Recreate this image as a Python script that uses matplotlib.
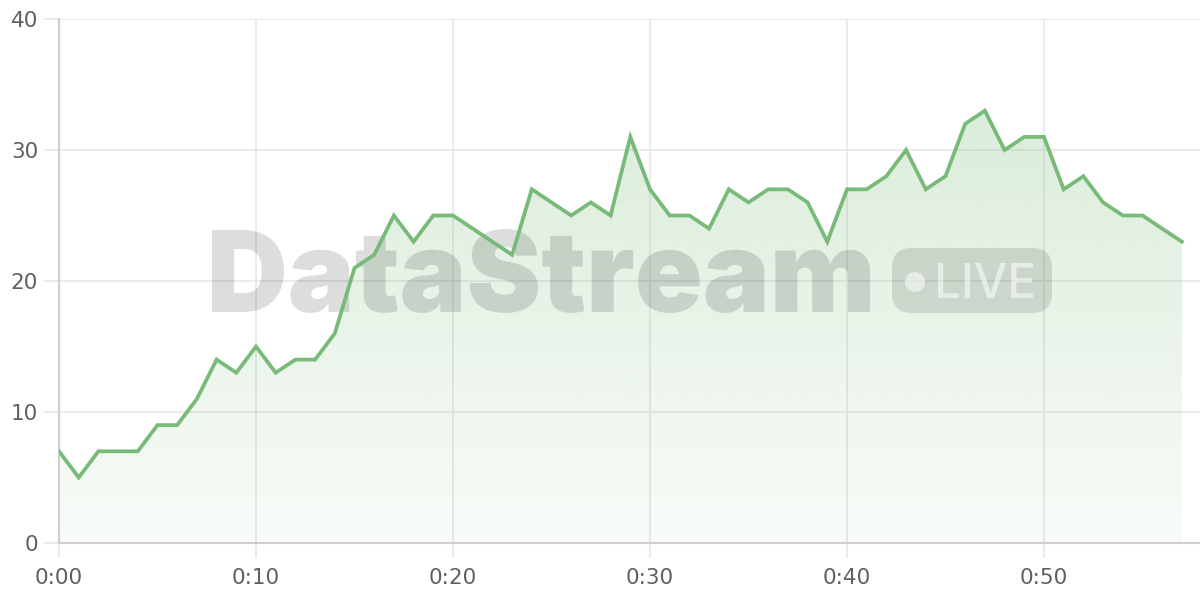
import numpy as np
import matplotlib
matplotlib.use("Agg")
import matplotlib.pyplot as plt
from matplotlib.patches import FancyBboxPatch, Circle, PathPatch
from matplotlib.textpath import TextPath
from matplotlib.font_manager import FontProperties
import matplotlib.transforms as mtransforms

minutes = list(range(58))
values = [7, 5, 7, 7, 7, 9, 9, 11, 14, 13, 15, 13, 14, 14, 16, 21, 22, 25, 23, 25,
          25, 24, 23, 22, 27, 26, 25, 26, 25, 31, 27, 25, 25, 24, 27, 26, 27, 27, 26, 23,
          27, 27, 28, 30, 27, 28, 32, 33, 30, 31, 31, 27, 28, 26, 25, 25, 24, 23]
x_ticks = [0, 10, 20, 30, 40, 50]
x_tick_labels = ["0:00", "0:10", "0:20", "0:30", "0:40", "0:50"]
y_ticks = [0, 10, 20, 30, 40]
watermark_text = "DataStream"
badge_text = "LIVE"

plt.rcParams['font.family'] = ['DejaVu Sans']

W, H = 1200, 600
fig = plt.figure(figsize=(12, 6), dpi=100)
ax = fig.add_axes([59/W, 57/H, 1141/W, 524/H])

line_color = "#78bb78"

# gradient fill under the line
x = np.array(minutes, dtype=float)
y = np.array(values, dtype=float)
poly = ax.fill_between(x, y, 0, color="none", lw=0)
grad = np.linspace(0.05, 0.27, 256).reshape(-1, 1)
rgba = np.zeros((256, 1, 4))
rgba[..., 0] = 0x78 / 255
rgba[..., 1] = 0xbb / 255
rgba[..., 2] = 0x78 / 255
rgba[..., 3] = grad
img = ax.imshow(rgba, extent=[0, x.max(), 0, y.max()], origin="lower",
                aspect="auto", zorder=1, interpolation="bilinear")
img.set_clip_path(poly.get_paths()[0], transform=ax.transData)

# pixel transform (image coords, origin top-left) -> display
pix = mtransforms.Affine2D().scale(1, -1).translate(0, H)


def fitted_text(s, prop, x0, x1, ytop, ybot, **kw):
    tp = TextPath((0, 0), s, size=100, prop=prop)
    bb = tp.get_extents()
    sx = (x1 - x0) / bb.width
    sy = (ybot - ytop) / bb.height
    tr = mtransforms.Affine2D().translate(-bb.x0, -bb.y0).scale(sx, sy).translate(x0, H - ybot)
    p = PathPatch(tr.transform_path(tp), transform=mtransforms.IdentityTransform(), **kw)
    ax.add_artist(p)
    return p


wm_prop = FontProperties(family=["Inter", "Roboto", "DejaVu Sans"], weight="black")
fitted_text(watermark_text, wm_prop, 212, 870, 229, 313,
            facecolor=(0, 0, 0, 0.135), edgecolor="none", zorder=2)

badge = FancyBboxPatch((892, 248), 160, 65, boxstyle="round,pad=0,rounding_size=20",
                       transform=pix, facecolor=(0, 0, 0, 0.115), edgecolor="none", zorder=2)
ax.add_artist(badge)
ax.add_artist(Circle((915, 282), 10, transform=pix, facecolor=(1, 1, 1, 0.55),
                     edgecolor="none", zorder=3))
live_prop = FontProperties(family=["Inter", "Roboto", "DejaVu Sans"], weight="medium")
fitted_text(badge_text, live_prop, 938, 1033, 263, 298,
            facecolor=(1, 1, 1, 0.55), edgecolor="none", zorder=3)

ax.plot(x, y, color=line_color, lw=2.7, zorder=4, solid_joinstyle="miter")

ax.set_xlim(0, 57.92)
ax.set_ylim(0, 40)
ax.set_xticks(x_ticks)
ax.set_xticklabels(x_tick_labels)
ax.set_yticks(y_ticks)
ax.grid(True, color="#e8e8e8", lw=1.2, zorder=0)
ax.set_axisbelow(True)
for s in ["top", "right"]:
    ax.spines[s].set_visible(False)
for s in ["left", "bottom"]:
    ax.spines[s].set_color("#cfcfcf")
    ax.spines[s].set_linewidth(1.5)
ax.tick_params(axis="both", colors="#e6e6e6", length=11, width=1.2,
               labelcolor="#606060", labelsize=15.5)
ax.tick_params(axis="y", pad=4)
ax.tick_params(axis="x", pad=7)

fig.savefig("out.png", dpi=100, facecolor="white")
